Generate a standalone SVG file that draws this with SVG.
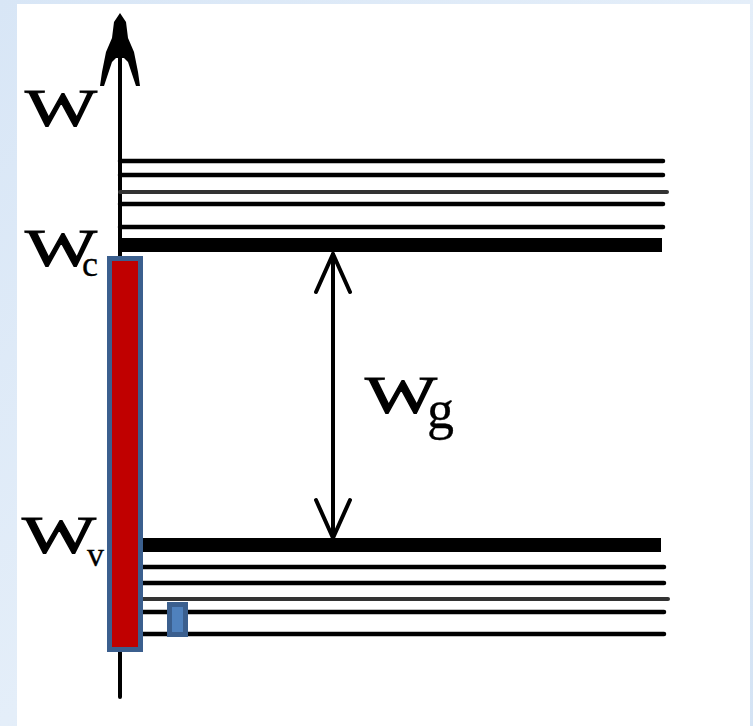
<svg xmlns="http://www.w3.org/2000/svg" width="753" height="726" viewBox="0 0 753 726">
<defs>
<linearGradient id="bg" x1="0" y1="0" x2="1" y2="1">
<stop offset="0" stop-color="#D8E6F6"/>
<stop offset="0.5" stop-color="#E4EEF9"/>
<stop offset="1" stop-color="#D4E3F4"/>
</linearGradient>
</defs>
<style>
.lvl{stroke:#000;stroke-linecap:round}
.thin{stroke-width:4.5}
.gray{stroke-width:4;stroke:#333}
.thick{stroke-width:14;stroke-linecap:butt}
.lbl{font-family:"Liberation Serif","Times New Roman",serif;fill:#000;stroke:#000;stroke-width:1}
.sub{font-family:"Liberation Serif","Times New Roman",serif;fill:#000;stroke:#000;stroke-width:0.3}
.ax{stroke:#000;stroke-width:4;fill:none;stroke-linecap:round;stroke-linejoin:round}
</style>
<rect x="0" y="0" width="753" height="726" fill="url(#bg)"/>
<rect x="17" y="4" width="733" height="722" fill="#FFFFFF"/>

<g id="axis">
<line class="ax" x1="120" y1="22" x2="120" y2="697"/>
<path d="M120,13 L126,22 L128,38 L134,52 L138,72 L140,86 L136,86 L128,62 L124,58 L116,58 L112,62 L104,86 L100,86 L102,72 L106,52 L112,38 L114,22 Z" fill="#000"/>
</g>

<g id="conduction-band">
<line class="lvl thin" x1="120" y1="161" x2="663" y2="161"/>
<line class="lvl thin" x1="120" y1="175" x2="663" y2="175"/>
<line class="lvl gray" x1="120" y1="192" x2="667" y2="192"/>
<line class="lvl thin" x1="120" y1="204" x2="663" y2="204"/>
<line class="lvl thin" x1="120" y1="227" x2="663" y2="227"/>
<line class="lvl thick" x1="120" y1="245" x2="662" y2="245"/>
</g>

<g id="valence-band">
<line class="lvl thick" x1="140" y1="545" x2="661" y2="545"/>
<line class="lvl thin" x1="140" y1="567" x2="664" y2="567"/>
<line class="lvl thin" x1="140" y1="583" x2="664" y2="583"/>
<line class="lvl gray" x1="140" y1="599" x2="668" y2="599"/>
<line class="lvl thin" x1="140" y1="612" x2="664" y2="612"/>
<line class="lvl thin" x1="140" y1="634" x2="664" y2="634"/>
</g>

<g id="connectors">
<line class="ax" x1="333" y1="254" x2="333" y2="538"/>
<polyline class="ax" points="316,292 333,254 350,292" stroke-width="5"/>
<polyline class="ax" points="316,500 333,538 350,500" stroke-width="5"/>
</g>

<g id="red-bar">
<rect x="109.5" y="258.5" width="31" height="391" fill="#C00000" stroke="#3B5F8E" stroke-width="5"/>
</g>

<g id="blue-box">
<rect x="169.5" y="604.5" width="16" height="30" fill="#4F81BD" stroke="#3B5F8E" stroke-width="5"/>
</g>

<g id="labels">
<text class="lbl" x="25" y="126" font-size="52" textLength="72" lengthAdjust="spacingAndGlyphs">W</text>
<text class="lbl" x="25" y="266" font-size="52" textLength="72" lengthAdjust="spacingAndGlyphs">W</text>
<text class="sub" x="82" y="276" font-size="36">c</text>
<text class="lbl" x="22" y="553" font-size="52" textLength="74" lengthAdjust="spacingAndGlyphs">W</text>
<text class="sub" x="87" y="566" font-size="34">v</text>
<text class="lbl" x="365" y="413" font-size="52" textLength="72" lengthAdjust="spacingAndGlyphs">W</text>
<text class="sub" x="427" y="428" font-size="54">g</text>
</g>
</svg>
